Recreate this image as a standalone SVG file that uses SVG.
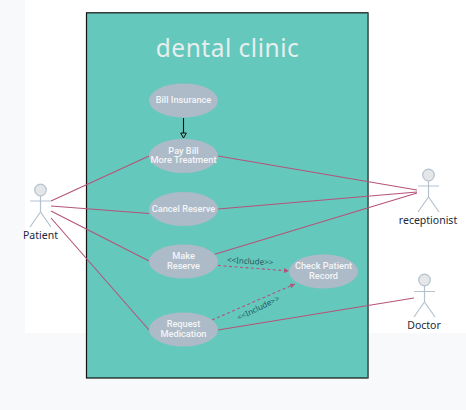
<svg xmlns="http://www.w3.org/2000/svg" width="466" height="410" viewBox="0 0 466 410">
<style>
.uc{fill:#adbac7}
.uct{font:500 9.200px "Roboto",sans-serif;fill:#f4f6f8;text-anchor:middle}
.act circle{fill:#e4e6e8;stroke:#b4c2cf;stroke-width:1.2}
.act path{fill:none;stroke:#b4c2cf;stroke-width:1.2}
.actt{font:10.500px "Noto Sans",sans-serif;fill:#20283a;text-anchor:middle}
.l{stroke:#b5537a;stroke-width:1.1;fill:none}
.d{stroke:#b5537a;stroke-width:1.1;fill:none;stroke-dasharray:3 2.5;marker-end:url(#a)}
.inc{font:8px "Noto Sans",sans-serif;fill:#1f5a60;text-anchor:middle}
</style>
<defs>
<marker id="a" markerWidth="7" markerHeight="6" refX="5" refY="2.5" orient="auto" markerUnits="userSpaceOnUse"><path d="M0 0L5 2.5L0 5z" fill="#b5537a"/></marker>
<marker id="h" markerWidth="8" markerHeight="8" refX="6" refY="3" orient="auto" markerUnits="userSpaceOnUse"><path d="M1 0.2L6 3L1 5.8z" fill="#65c8bc" stroke="#111" stroke-width="1"/></marker>
</defs>
<rect width="466" height="410" fill="#f8f9fb"/>
<rect x="25" width="441" height="333" fill="#fff"/>
<g id="system">
<rect x="86.500" y="12.800" width="281.500" height="365.200" fill="#65c8bc" stroke="#111" stroke-width="1.200"/>
<path d="M368 13V378" stroke="#566e6c" stroke-width="1.400"/>
<text x="227.500" y="57" font-family="Noto Sans,sans-serif" font-size="24.500" fill="#e6eeee" text-anchor="middle" letter-spacing=".5">dental clinic</text>
</g>
<g id="connectors">
<path class="l" d="M51 201L149 156M218 156L417 190M51 206L149 213.500M218 209L417 192M51 211L149 261M214 254.500L417 193M51 218L149 330M218 330L414 298"/>
<path d="M183.500 118V138" stroke="#111" stroke-width="1.100" fill="none" marker-end="url(#h)"/>
<path class="d" d="M218 265.500L289 271"/>
<path class="d" d="M212 320L295 284"/>
</g>
<g id="bill"><ellipse class="uc" cx="183.500" cy="100.500" rx="34.500" ry="17"/><text class="uct" x="183.500" y="103">Bill Insurance</text></g>
<g id="pay"><ellipse class="uc" cx="183.500" cy="156" rx="34.500" ry="17"/><text class="uct" x="183.500" y="153.500">Pay Bill</text><text class="uct" x="183.500" y="163">More Treatment</text></g>
<g id="cancel"><ellipse class="uc" cx="183.500" cy="209" rx="34.500" ry="17"/><text class="uct" x="183.500" y="212">Cancel Reserve</text></g>
<g id="make"><ellipse class="uc" cx="183.500" cy="261.500" rx="34.500" ry="17"/><text class="uct" x="183.500" y="259">Make</text><text class="uct" x="183.500" y="269">Reserve</text></g>
<g id="request"><ellipse class="uc" cx="183.500" cy="329.500" rx="34.500" ry="17"/><text class="uct" x="183.500" y="327">Request</text><text class="uct" x="183.500" y="337">Medication</text></g>
<g id="check"><ellipse class="uc" cx="323.500" cy="271.500" rx="34.500" ry="17"/><text class="uct" x="323.500" y="269">Check Patient</text><text class="uct" x="323.500" y="279">Record</text></g>
<text class="inc" transform="translate(250 264) rotate(3)">&lt;&lt;Include&gt;&gt;</text>
<text class="inc" transform="translate(259.500 310.500) rotate(-26)">&lt;&lt;Include&gt;&gt;</text>
<g id="patient" class="act"><circle cx="40.500" cy="190" r="5.800"/><path d="M40.500 196V212M30 201H51M30 227L40.500 212L51 227"/><text class="actt" x="40.500" y="239">Patient</text></g>
<g id="receptionist" class="act"><circle cx="428.500" cy="175" r="5.800"/><path d="M428.500 181V197M418 186H439M418 212L428.500 197L439 212"/><text class="actt" x="428" y="224">receptionist</text></g>
<g id="doctor" class="act"><circle cx="424.500" cy="280" r="5.800"/><path d="M424.500 286V302M414 291.500H435M414 317L424.500 302L435 317"/><text class="actt" x="424" y="329">Doctor</text></g>
</svg>
